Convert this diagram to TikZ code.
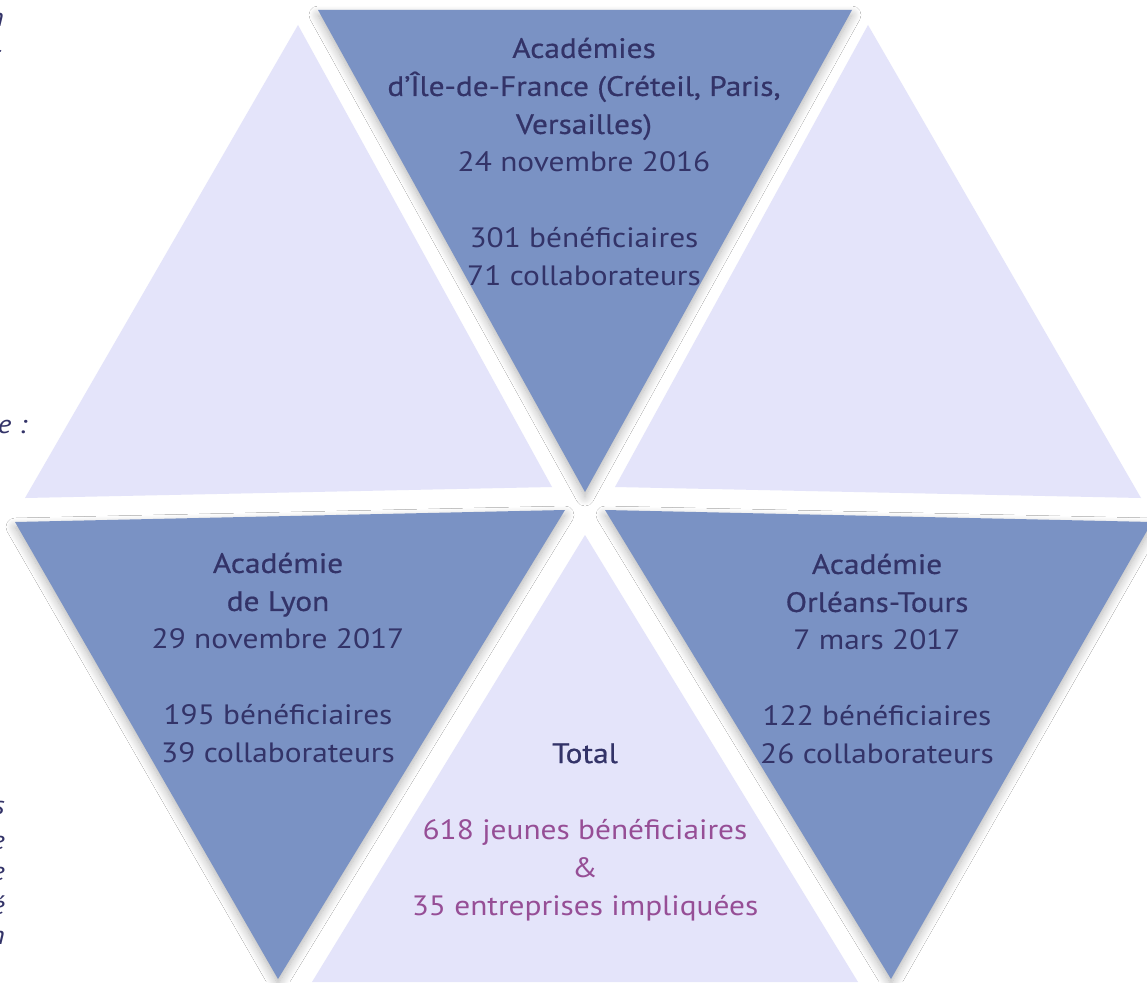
\documentclass[tikz,border=0pt]{standalone}
\usepackage{fontspec}
\setmainfont{PT Sans}[FakeStretch=1.12,BoldFont={PT Sans},BoldFeatures={FakeBold=0.6}]
\usetikzlibrary{shadows.blur}
\definecolor{darktri}{RGB}{122,146,196}
\definecolor{lighttri}{RGB}{228,228,250}
\definecolor{navy}{RGB}{51,51,104}
\definecolor{plum}{RGB}{150,78,150}
\tikzset{
  darkface/.style={fill=darktri, draw=none, blur shadow={shadow xshift=0pt, shadow yshift=-5pt, shadow blur radius=9pt, shadow blur steps=12, shadow opacity=30}},
  lightface/.style={fill=lighttri, draw=none},
  label/.style={align=center, text=navy, font=\fontsize{28}{38}\selectfont, inner sep=0pt},
  edgetext/.style={anchor=east, text=navy, font=\itshape\fontsize{26}{30}\selectfont, inner sep=0pt}
}
\begin{document}
\begin{tikzpicture}[x=1pt,y=-1pt]
\useasboundingbox (0,0) rectangle (1147,982);
\fill[white] (0,0) rectangle (1147,982);
% cut-off text at the left edge
\node[edgetext] (f1) at (4,20) {n};
\node[edgetext] (f2) at (2,57) {s};
\node[edgetext] (f3) at (27,427) {e :};
\node[edgetext] (f4) at (5,808) {s};
\node[edgetext] (f5) at (5,843) {e};
\node[edgetext] (f6) at (5,874) {e};
\node[edgetext] (f7) at (5,905) {é};
\node[edgetext] (f8) at (5,938) {n};
% triangles
\path[lightface] (298,25) -- (552,487) -- (25,498) -- cycle;
\path[lightface] (868,25) -- (1141,498) -- (615,487) -- cycle;
\path[lightface] (585,535) -- (858,982) -- (312,982) -- cycle;
\path[darkface] (318,10) -- (852,10) -- (585,492) -- cycle;
\path[darkface] (15,522) -- (565,510) -- (278,979) -- cycle;
\path[darkface] (605,510) -- (1152,522) -- (891,979) -- cycle;
% texts
\node[label] (idf) at (584,162) {\bfseries Académies\\ \bfseries d’Île-de-France (Créteil, Paris,\\ \bfseries Versailles)\\ 24 novembre 2016\\ ~\\ 301 bénéficiaires\\ 71 collaborateurs};
\node[label] (lyon) at (278,658) {\bfseries Académie\\ \bfseries de Lyon\\ 29 novembre 2017\\ ~\\ 195 bénéficiaires\\ 39 collaborateurs};
\node[label] (orl) at (877,659) {\bfseries Académie\\ \bfseries Orléans-Tours\\ 7 mars 2017\\ ~\\ 122 bénéficiaires\\ 26 collaborateurs};
\node[label] (tot) at (585,832) {\bfseries Total\\ ~\\ \color{plum}618 jeunes bénéficiaires\\ \color{plum}\&\\ \color{plum}35 entreprises impliquées};
\end{tikzpicture}
\end{document}
